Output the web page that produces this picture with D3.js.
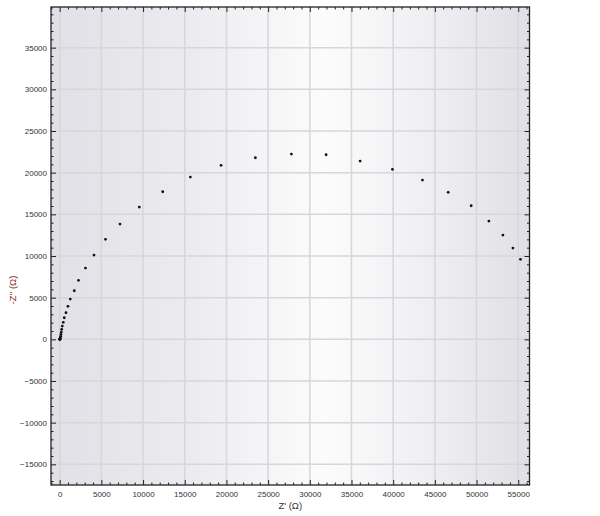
<!DOCTYPE html>
<html>
<head>
<meta charset="utf-8">
<script src="https://cdn.jsdelivr.net/npm/d3@7"></script>
<style>
  body { margin: 0; background: #fff; }
  svg { display: block; }
  .tick text { font-family: "Liberation Sans", Arial, sans-serif; font-size: 8px; fill: #333; }
</style>
</head>
<body>
<div id="chart"></div>
<script>
// Nyquist data, Z' (ohm) and -Z'' (ohm)
const zReal = [6, 12, 24, 36, 48, 72, 120, 156, 192, 240, 312, 432, 552, 756, 996, 1272, 1752, 2256, 3096, 4116, 5496, 7236, 9552, 12360, 15672, 19356, 23472, 27792, 31956, 36036, 39912, 43512, 46596, 49356, 51480, 53160, 54360, 55272]
const zImag = [4, 12, 30, 0, 90, 156, 360, 600, 876, 1200, 1596, 2040, 2592, 3192, 3960, 4836, 5832, 7080, 8556, 10116, 12000, 13836, 15876, 17712, 19476, 20880, 21792, 22236, 22152, 21396, 20400, 19116, 17640, 16032, 14196, 12516, 10956, 9600]

const xTicks = [0, 5000, 10000, 15000, 20000, 25000, 30000, 35000, 40000, 45000, 50000, 55000]
const yTicks = [-15000, -10000, -5000, 0, 5000, 10000, 15000, 20000, 25000, 30000, 35000]
const xLabel = "Z' (Ω)"
const yLabel = "-Z'' (Ω)"

const width = 600
const height = 516
const margin = {left: 51, top: 7, right: 70.5, bottom: 31}
const chartWidth = width - margin.left - margin.right
const chartHeight = height - margin.top - margin.bottom

const svg = d3.select('#chart')
  .append('svg')
    .attr('width', width)
    .attr('height', height)

const defs = svg.append('defs')
const grad = defs.append('linearGradient')
  .attr('id', 'bg')
  .attr('x1', '0%').attr('x2', '100%').attr('y1', '0%').attr('y2', '0%')
grad.append('stop').attr('offset', '0%').attr('stop-color', '#e0e0e6')
grad.append('stop').attr('offset', '30%').attr('stop-color', '#ececf0')
grad.append('stop').attr('offset', '57%').attr('stop-color', '#fcfcfc')
grad.append('stop').attr('offset', '82%').attr('stop-color', '#ededf1')
grad.append('stop').attr('offset', '100%').attr('stop-color', '#dfdfe5')

const g = svg.append('g')
  .attr('transform', `translate(${margin.left}, ${margin.top})`)

g.append('rect')
  .attr('width', chartWidth)
  .attr('height', chartHeight)
  .attr('fill', 'url(#bg)')

const xScale = d3.scaleLinear()
  .domain([-1040, 56350])
  .range([0, chartWidth])

const yScale = d3.scaleLinear()
  .domain([-17480, 39880])
  .range([chartHeight, 0])

const minorX = d3.range(-1000, 56001, 1000).filter(v => v % 5000 !== 0)
const minorY = d3.range(-17000, 39001, 1000).filter(v => v % 5000 !== 0)

// grid
g.append('g').selectAll('line').data(xTicks).join('line')
  .attr('x1', d => xScale(d)).attr('x2', d => xScale(d))
  .attr('y1', 0).attr('y2', chartHeight)
  .attr('stroke', '#d7d7da').attr('stroke-width', 1.5)
g.append('g').selectAll('line').data(yTicks).join('line')
  .attr('y1', d => yScale(d)).attr('y2', d => yScale(d))
  .attr('x1', 0).attr('x2', chartWidth)
  .attr('stroke', '#d7d7da').attr('stroke-width', 1.5)

// axes, ticks pointing inward
const addAxis = (axis, transform) => {
  const a = g.append('g').attr('transform', transform).call(axis)
  a.select('.domain').remove()
  a.selectAll('.tick line').attr('stroke', '#222')
  return a
}

addAxis(d3.axisBottom(xScale).tickValues(xTicks).tickSize(-5).tickPadding(6).tickFormat(d3.format('d')), `translate(0, ${chartHeight})`)
addAxis(d3.axisBottom(xScale).tickValues(minorX).tickSize(-2.5).tickFormat(''), `translate(0, ${chartHeight})`)
addAxis(d3.axisTop(xScale).tickValues(xTicks).tickSize(-5).tickFormat(''), 'translate(0, 0)')
addAxis(d3.axisTop(xScale).tickValues(minorX).tickSize(-2.5).tickFormat(''), 'translate(0, 0)')
addAxis(d3.axisLeft(yScale).tickValues(yTicks).tickSize(-5).tickPadding(4).tickFormat(d3.format('d')), 'translate(0, 0)')
addAxis(d3.axisLeft(yScale).tickValues(minorY).tickSize(-2.5).tickFormat(''), 'translate(0, 0)')
addAxis(d3.axisRight(yScale).tickValues(yTicks).tickSize(-5).tickFormat(''), `translate(${chartWidth}, 0)`)
addAxis(d3.axisRight(yScale).tickValues(minorY).tickSize(-2.5).tickFormat(''), `translate(${chartWidth}, 0)`)

g.append('rect')
  .attr('width', chartWidth)
  .attr('height', chartHeight)
  .attr('fill', 'none')
  .attr('stroke', '#222')
  .attr('stroke-width', 1.3)

// points
g.append('g').selectAll('circle').data(zReal).join('circle')
  .attr('cx', d => xScale(d))
  .attr('cy', (d, i) => yScale(zImag[i]))
  .attr('r', 1.4)
  .attr('fill', '#111')

svg.append('text')
  .attr('x', margin.left + chartWidth / 2)
  .attr('y', 509)
  .attr('text-anchor', 'middle')
  .style('font-family', '"Liberation Sans", Arial, sans-serif')
  .style('font-size', '9.5px')
  .style('fill', '#333')
  .text(xLabel)

svg.append('text')
  .attr('transform', 'translate(16, 290) rotate(-90)')
  .attr('text-anchor', 'middle')
  .style('font-family', '"Liberation Sans", Arial, sans-serif')
  .style('font-size', '9.5px')
  .style('fill', '#8b2a2a')
  .text(yLabel)
</script>
</body>
</html>
